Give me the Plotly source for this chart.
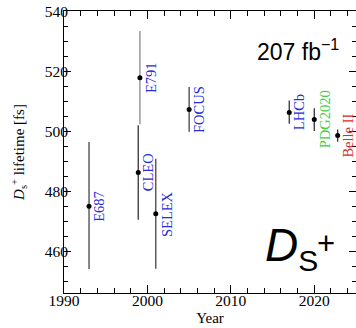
import plotly.graph_objects as go

experiments = ["E687", "E791", "CLEO", "SELEX", "FOCUS", "LHCb", "PDG2020", "Belle II"]
years = [1993.0, 1999.1, 1998.9, 2001.0, 2005.0, 2017.0, 2020.0, 2022.8]
lifetime = [475.0, 518.0, 486.3, 472.5, 507.4, 506.4, 504.0, 498.7]
err_up = [21.5, 15.6, 15.8, 18.4, 7.5, 4.0, 3.8, 2.0]
err_dn = [21.0, 15.6, 15.8, 18.4, 7.5, 3.8, 3.8, 2.1]
bar_colors = ["#444444", "#888888", "#333333", "#444444", "#444444", "#333333", "#333333", "#333333"]
label_colors = ["#2b2bd9", "#2b2bd9", "#2b2bd9", "#2b2bd9", "#2b2bd9", "#2b2bd9", "#44cc44", "#e02a2a"]

serif = "Liberation Serif"
sans = "Liberation Sans"

fig = go.Figure()
for i in range(len(experiments)):
    fig.add_trace(go.Scatter(
        x=[years[i]], y=[lifetime[i]], mode="markers",
        marker=dict(color="black", size=5),
        error_y=dict(type="data", symmetric=False, array=[err_up[i]], arrayminus=[err_dn[i]],
                     color=bar_colors[i], thickness=1.3, width=0),
        showlegend=False, hoverinfo="skip"))
    fig.add_annotation(x=years[i], y=lifetime[i], text=experiments[i], textangle=-90,
                       showarrow=False, xshift=10.5, xanchor="center", yanchor="middle",
                       font=dict(family=serif, size=14.5, color=label_colors[i]))

fig.add_annotation(xref="paper", yref="paper", x=0.95, y=0.86, text="207 fb<sup>−1</sup>",
                   showarrow=False, xanchor="right", yanchor="middle",
                   font=dict(family=sans, size=23, color="black"))
fig.add_annotation(xref="paper", yref="paper", x=0.68, y=0.16,
                   text="<i>D</i><sub><span style='font-size:30px'>S</span></sub>",
                   showarrow=False, xanchor="left", yanchor="middle",
                   font=dict(family=sans, size=46, color="black"))
fig.add_annotation(xref="paper", yref="paper", x=0.897, y=0.177, text="+",
                   showarrow=False, xanchor="center", yanchor="middle",
                   font=dict(family=sans, size=31, color="black"))

fig.update_layout(
    width=356, height=328,
    margin=dict(l=64, r=0, t=11, b=35),
    paper_bgcolor="white", plot_bgcolor="white",
    font=dict(family=serif, size=15, color="black"),
)
fig.update_xaxes(range=[1990, 2025], showgrid=False, zeroline=False,
                 showline=True, linecolor="black", linewidth=1, mirror="allticks",
                 ticks="inside", ticklen=8, tickcolor="black", dtick=10, tick0=1990,
                 tickfont=dict(family=serif, size=15.5), ticklabelstandoff=-7,
                 minor=dict(ticks="inside", ticklen=5, dtick=2, tickcolor="black"),
                 title=dict(text="Year", font=dict(family=serif, size=15), standoff=4))
fig.update_yaxes(range=[446, 540.3], showgrid=False, zeroline=False,
                 showline=True, linecolor="black", linewidth=1, mirror="allticks",
                 ticks="inside", ticklen=7, tickcolor="black", dtick=20, tick0=460,
                 tickfont=dict(family=serif, size=15.5), ticklabelstandoff=-8,
                 minor=dict(ticks="inside", ticklen=4, dtick=5, tickcolor="black"),
                 title=dict(text="<i>D</i><sub>s</sub><sup>+</sup> lifetime [fs]",
                            font=dict(family=serif, size=15), standoff=16))

fig.write_html("out.html", config={"displayModeBar": False},
               post_script="document.body.style.margin='0';document.body.style.overflow='hidden';")
